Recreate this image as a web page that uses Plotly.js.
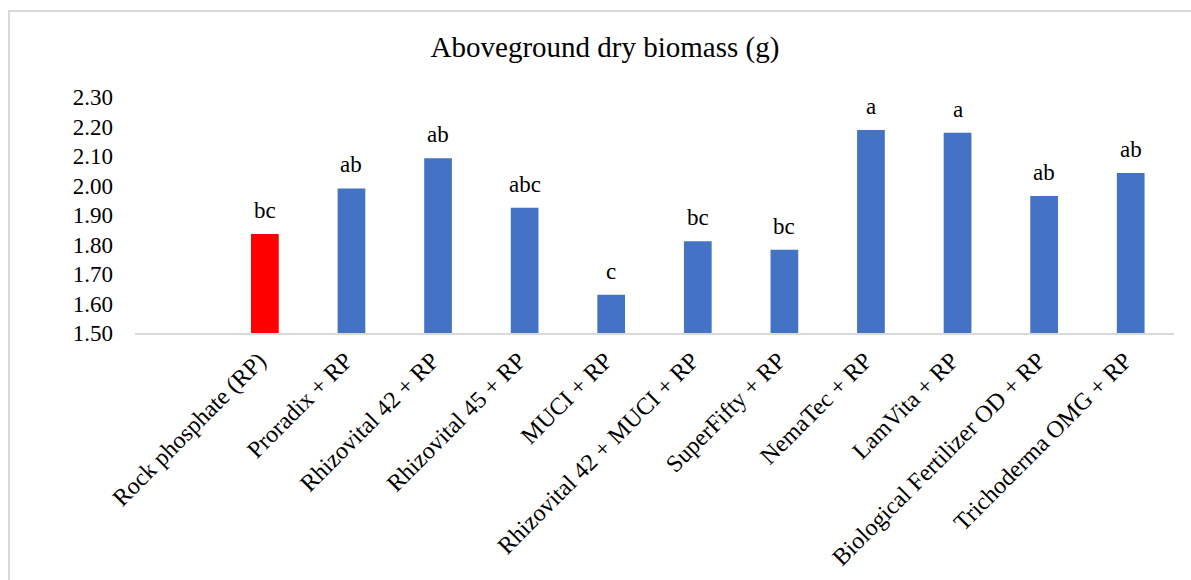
<!DOCTYPE html>
<html>
<head>
<meta charset="utf-8">
<script src="https://cdn.plot.ly/plotly-3.0.1.min.js"></script>
<style>
  html, body { margin: 0; padding: 0; background: #fff; }
  #wrap { position: relative; width: 1191px; height: 580px; overflow: hidden; }
  #chart { position: absolute; left: 0; top: 0; width: 1191px; height: 580px; }
  #frame { position: absolute; left: 8px; top: 10px; width: 1300px; height: 700px;
           border-left: 2px solid #d9d9d9; border-top: 2px solid #d9d9d9; pointer-events: none; }
</style>
</head>
<body>
<div id="wrap">
  <div id="chart"></div>
  <div id="frame"></div>
</div>
<script>
const categories = [
  "Rock phosphate (RP)",
  "Proradix + RP",
  "Rhizovital 42 + RP",
  "Rhizovital 45 + RP",
  "MUCI + RP",
  "Rhizovital 42 + MUCI + RP",
  "SuperFifty + RP",
  "NemaTec + RP",
  "LamVita + RP",
  "Biological Fertilizer OD + RP",
  "Trichoderma OMG + RP"
];
const biomass = [1.836, 1.990, 2.092, 1.925, 1.630, 1.811, 1.782, 2.188, 2.179, 1.964, 2.042];
const letters = ["bc", "ab", "ab", "abc", "c", "bc", "bc", "a", "a", "ab", "ab"];
const barColors = ["#FF0000", "#4472C4", "#4472C4", "#4472C4", "#4472C4", "#4472C4",
                   "#4472C4", "#4472C4", "#4472C4", "#4472C4", "#4472C4"];
const yTicks = [1.5, 1.6, 1.7, 1.8, 1.9, 2.0, 2.1, 2.2, 2.3];

const font = "Liberation Serif, Times New Roman, serif";

const trace = {
  type: "bar",
  x: categories,
  y: biomass,
  marker: { color: barColors, line: { width: 0 } },
  hoverinfo: "x+y",
  showlegend: false
};

const annotations = categories.map((c, i) => ({
  x: c, y: biomass[i], xref: "x", yref: "y",
  text: letters[i], showarrow: false,
  yanchor: "bottom", yshift: 9,
  font: { family: font, size: 23, color: "#000" }
}));

const layout = {
  width: 1191, height: 580,
  paper_bgcolor: "#ffffff", plot_bgcolor: "#ffffff",
  margin: { l: 135, r: 17, t: 97, b: 247 },
  bargap: 0.68,
  title: {
    text: "Aboveground dry biomass (g)",
    font: { family: font, size: 29, color: "#000" },
    x: 605 / 1191, xanchor: "center", xref: "container",
    y: 0.919, yanchor: "middle", yref: "container"
  },
  xaxis: {
    type: "category",
    range: [-1.5, 10.5],
    tickangle: -45,
    tickfont: { family: font, size: 24, color: "#000" },
    showgrid: false, zeroline: false,
    showline: true, linecolor: "#d9d9d9", linewidth: 2,
    ticks: "", ticklabelstandoff: 2, ticklabelshift: -6
  },
  yaxis: {
    range: [1.5, 2.3],
    tickvals: yTicks,
    ticktext: yTicks.map(v => v.toFixed(2)),
    tickfont: { family: font, size: 23, color: "#000" },
    showgrid: false, zeroline: false, showline: false,
    ticks: "", ticklabelstandoff: 21
  },
  annotations: annotations
};

Plotly.newPlot("chart", [trace], layout, { displayModeBar: false, staticPlot: true });
</script>
</body>
</html>
